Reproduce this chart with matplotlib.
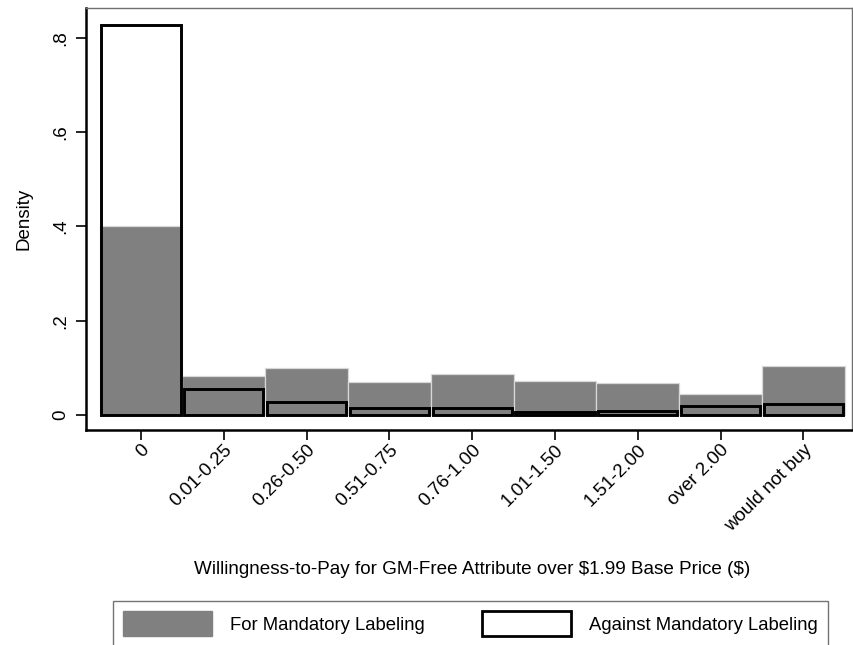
import matplotlib
matplotlib.use("Agg")
from matplotlib import pyplot as plt
from matplotlib.patches import Patch

plt.rcParams['font.family'] = ['Liberation Sans', 'DejaVu Sans']

categories = ['0', '0.01-0.25', '0.26-0.50', '0.51-0.75', '0.76-1.00',
              '1.01-1.50', '1.51-2.00', 'over 2.00', 'would not buy']
# density of each WTP bin, by labeling opinion
for_labeling = [0.400, 0.082, 0.100, 0.069, 0.088, 0.072, 0.067, 0.045, 0.104]
against_labeling = [0.828, 0.055, 0.027, 0.014, 0.014, 0.006, 0.008, 0.020, 0.023]
yticks = [0, 0.2, 0.4, 0.6, 0.8]
ytick_labels = ['0', '.2', '.4', '.6', '.8']

fig = plt.figure(figsize=(8.54, 6.45), dpi=100)
ax = fig.add_axes([86/854, 1 - 430/645, 766/854, 422/645])

x = list(range(len(categories)))
ax.bar(x, for_labeling, width=1.0, color='#808080', edgecolor='#d8d8d8',
       linewidth=0.9, zorder=2)
ax.bar(x, against_labeling, width=0.955, fill=False, edgecolor='black',
       linewidth=2.1, zorder=3)

ax.set_xlim(-0.664, 8.587)
ax.set_ylim(-0.0318, 0.8636)

ax.set_yticks(yticks)
ax.set_yticklabels(ytick_labels, rotation=90, va='center', fontsize=13.5)
ax.set_xticks(x)
ax.set_xticklabels(categories, rotation=45, ha='right', rotation_mode='anchor',
                   fontsize=13.5)
ax.tick_params(axis='both', length=7, width=1.2, color='black')
ax.tick_params(axis='x', pad=1)
ax.tick_params(axis='y', pad=5)

for side in ['top', 'right']:
    ax.spines[side].set_color('#707070')
    ax.spines[side].set_linewidth(1.0)
for side in ['left', 'bottom']:
    ax.spines[side].set_color('black')
    ax.spines[side].set_linewidth(1.8)

ax.set_ylabel('Density', fontsize=13.5, labelpad=14)
fig.text(472/854, 1 - 570/645, r'Willingness-to-Pay for GM-Free Attribute over \$1.99 Base Price (\$)',
         ha='center', va='center', fontsize=13.6)

handles = [Patch(facecolor='#808080', edgecolor='#808080'),
           Patch(facecolor='white', edgecolor='black', linewidth=2.0)]
leg = fig.legend(handles, ['For Mandatory Labeling', 'Against Mandatory Labeling'],
                 loc='upper left', bbox_to_anchor=(113/854, 1 - 601/645),
                 ncol=2, fontsize=13.3, frameon=True, fancybox=False,
                 handlelength=4.8, handleheight=1.7, handletextpad=1.0,
                 columnspacing=3.1, borderpad=0.55, borderaxespad=0)
leg.get_frame().set_edgecolor('#505050')
leg.get_frame().set_linewidth(1.0)

plt.savefig('out.png', dpi=100)
